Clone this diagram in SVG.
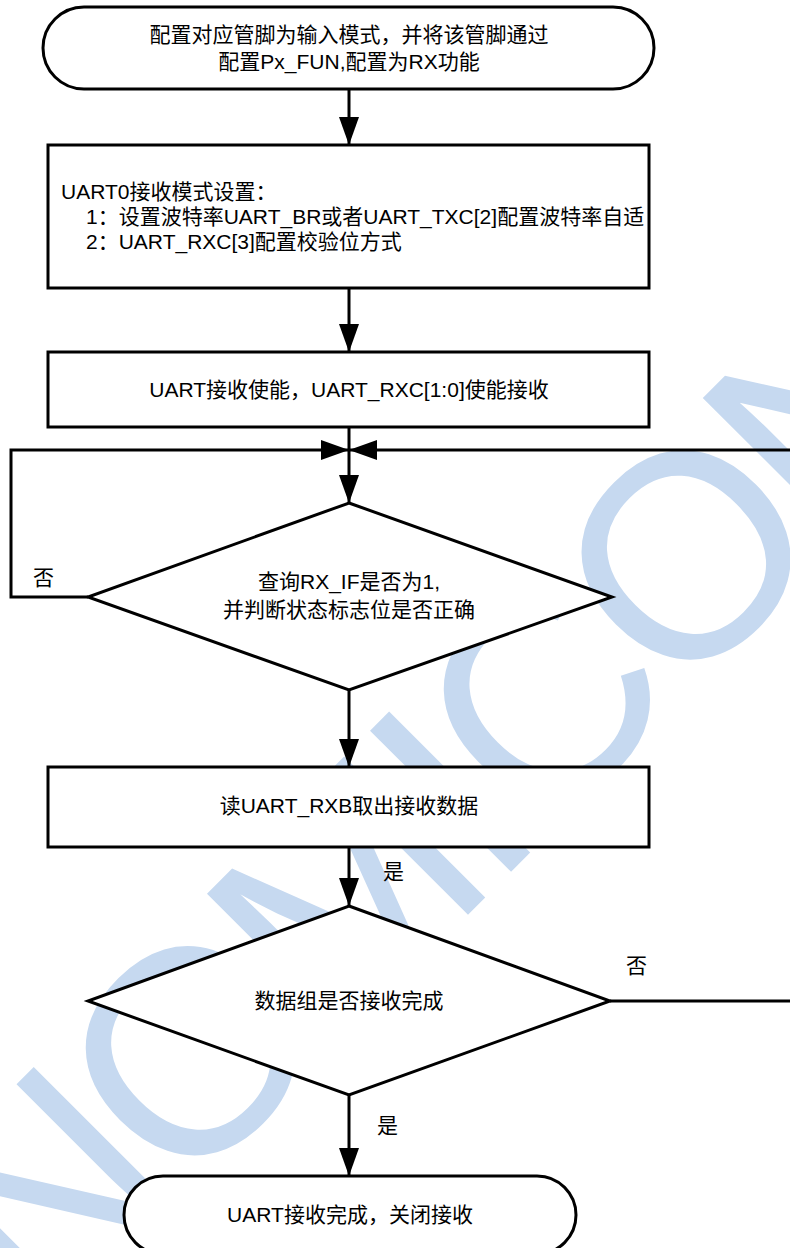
<svg xmlns="http://www.w3.org/2000/svg" width="790" height="1248" viewBox="0 0 790 1248">
<style>
.wm{font-family:"Liberation Sans",Arial,sans-serif;font-size:290px;fill:#C6D9F0;letter-spacing:-14px}
.shape{fill:#fff;stroke:#000;stroke-width:3}
.t{font-family:"Liberation Sans","Noto Sans CJK SC",sans-serif;font-size:21px;fill:#000}
.c{text-anchor:middle}
.ln{fill:none;stroke:#000;stroke-width:3}
</style>
<defs>
<marker id="ah" markerUnits="userSpaceOnUse" markerWidth="28" markerHeight="20" refX="28" refY="10" orient="auto">
<path d="M0,0 L28,10 L0,20 z" fill="#000"/>
</marker>
</defs>
<rect width="790" height="1248" fill="#fff"/>
<g id="watermark" transform="translate(-130.5 1513.3) rotate(-45)">
<text class="wm" x="0" y="0">SINOMICON</text>
</g>
<g id="connectors">
<path class="ln" d="M349,89 V145" marker-end="url(#ah)"/>
<path class="ln" d="M349,288 V352" marker-end="url(#ah)"/>
<path class="ln" d="M349,427 V503" marker-end="url(#ah)"/>
<path class="ln" d="M88,597 H11 V450 H349" marker-end="url(#ah)"/>
<path class="ln" d="M610,1001 H800 V450 H349" marker-end="url(#ah)"/>
<path class="ln" d="M349,690 V767" marker-end="url(#ah)"/>
<path class="ln" d="M349,847 V906" marker-end="url(#ah)"/>
<path class="ln" d="M349,1095 V1176" marker-end="url(#ah)"/>
<text class="t" x="33" y="585">否</text>
<text class="t" x="626" y="973">否</text>
<text class="t" x="383" y="879">是</text>
<text class="t" x="377" y="1133">是</text>
</g>
<g id="start">
<rect class="shape" x="43" y="7" width="611" height="82" rx="41"/>
<text class="t c" x="349" y="42">配置对应管脚为输入模式，并将该管脚通过</text>
<text class="t c" x="349" y="69">配置Px_FUN,配置为RX功能</text>
</g>
<g id="mode">
<rect class="shape" x="48" y="145" width="601" height="143"/>
<text class="t" x="61" y="198.5">UART0接收模式设置：</text>
<text class="t" x="86" y="223.5">1：设置波特率UART_BR或者UART_TXC[2]配置波特率自适</text>
<text class="t" x="86" y="248.5">2：UART_RXC[3]配置校验位方式</text>
</g>
<g id="enable">
<rect class="shape" x="48" y="352" width="601" height="75"/>
<text class="t c" x="349" y="397">UART接收使能，UART_RXC[1:0]使能接收</text>
</g>
<g id="check">
<polygon class="shape" points="349,503 612,597 349,690 88,597"/>
<text class="t c" x="349" y="589">查询RX_IF是否为1,</text>
<text class="t c" x="349" y="617">并判断状态标志位是否正确</text>
</g>
<g id="read">
<rect class="shape" x="48" y="767" width="601" height="80"/>
<text class="t c" x="349" y="813">读UART_RXB取出接收数据</text>
</g>
<g id="done">
<polygon class="shape" points="349,906 610,1001 349,1095 88,1001"/>
<text class="t c" x="349" y="1008">数据组是否接收完成</text>
</g>
<g id="end">
<rect class="shape" x="124" y="1176" width="452" height="78" rx="39"/>
<text class="t c" x="350" y="1222">UART接收完成，关闭接收</text>
</g>
</svg>
